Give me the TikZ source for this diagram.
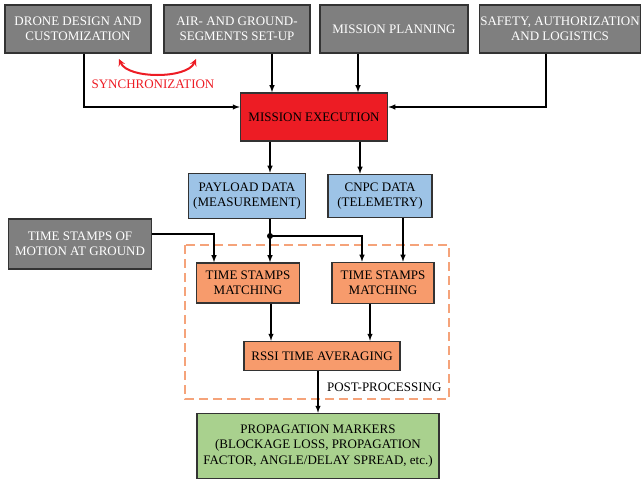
\documentclass[tikz,border=0pt]{standalone}
\usepackage{fontspec}
\setmainfont{Liberation Serif}
\usepackage{tikz}
\usetikzlibrary{arrows}
\definecolor{boxgrey}{HTML}{7F7F7F}
\definecolor{execred}{HTML}{ED1C24}
\definecolor{datablue}{HTML}{9DC3E6}
\definecolor{procorange}{HTML}{F79B6C}
\definecolor{markgreen}{HTML}{A9D18E}
\definecolor{dashorange}{HTML}{F5A37A}
\tikzstyle{block}=[draw=black!80,line width=1.5pt,align=center,inner sep=1pt,
  font=\fontsize{13}{15.5}\selectfont]
\tikzstyle{stage}=[block,fill=boxgrey,text=white]
\tikzstyle{edge} = [draw,line width=1.4pt,->,>=latex]
\tikzstyle{weight} = [font=\fontsize{13}{15.5}\selectfont]

\begin{document}
\begin{tikzpicture}[x=1pt,y=-1pt]
    \useasboundingbox (0,0) rectangle (643,481);
	% draw the set-up stages
	\node[stage,minimum width=146pt,minimum height=48pt] (drone) at (78,29) {DRONE DESIGN AND\\CUSTOMIZATION};
	\node[stage,minimum width=146pt,minimum height=48pt] (segments) at (237,29) {AIR- AND GROUND-\\SEGMENTS SET-UP};
	\node[stage,minimum width=148pt,minimum height=48pt] (planning) at (394,29) {MISSION PLANNING};
	\node[stage,minimum width=159pt,minimum height=48pt] (safety) at (560,29) {SAFETY, AUTHORIZATION\\AND LOGISTICS};
	\node[block,fill=execred,minimum width=147pt,minimum height=48pt] (exec) at (314,117) {MISSION EXECUTION};
	% data and post-processing
	\node[block,fill=datablue,minimum width=117pt,minimum height=45pt] (payload) at (247,196) {PAYLOAD DATA\\(MEASUREMENT)};
	\node[block,fill=datablue,minimum width=104pt,minimum height=43pt] (cnpc) at (380,196) {CNPC DATA\\(TELEMETRY)};
	\node[stage,minimum width=143pt,minimum height=50pt] (motion) at (80,244) {TIME STAMPS OF\\MOTION AT GROUND};
	\node[block,fill=procorange,minimum width=103pt,minimum height=40pt] (tsa) at (248,283) {TIME STAMPS\\MATCHING};
	\node[block,fill=procorange,minimum width=102pt,minimum height=41pt] (tsb) at (383,283) {TIME STAMPS\\MATCHING};
	\node[block,fill=procorange,minimum width=156pt,minimum height=29pt] (rssi) at (322,356) {RSSI TIME AVERAGING};
	\node[block,fill=markgreen,minimum width=242pt,minimum height=65pt] (markers) at (318,446)
	    {PROPAGATION MARKERS\\(BLOCKAGE LOSS, PROPAGATION\\FACTOR, ANGLE/DELAY SPREAD, etc.)};
	% post-processing frame
	\draw[dashorange,line width=2.2pt,dash pattern=on 9pt off 5pt] (185,245) rectangle (449,399);
	\node[weight,anchor=east] (post) at (445,387) {POST-PROCESSING};
	% connect the blocks
	\path[edge] (drone.south -| 84,0) |- (exec.west |- 0,107);
	\path[edge] (safety.south -| 546,0) |- (exec.east |- 0,107);
	\path[edge] (segments.south -| 272,0) -- (exec.north -| 272,0);
	\path[edge] (planning.south -| 358,0) -- (exec.north -| 358,0);
	\path[edge] (exec.south -| 270,0) -- (payload.north -| 270,0);
	\path[edge] (exec.south -| 360,0) -- (cnpc.north -| 360,0);
	\coordinate (split) at (270,236);
	\fill (split) circle (3pt);
	\path[edge] (payload.south -| 270,0) -- (tsa.north -| 270,0);
	\path[edge] (split) -| (tsb.north -| 362,0);
	\path[edge] (cnpc.south -| 403,0) -- (tsb.north -| 403,0);
	\path[edge] (motion.east |- 0,234) -| (tsa.north -| 214,0);
	\path[edge] (tsa.south -| 271,0) -- (rssi.north -| 271,0);
	\path[edge] (tsb.south -| 370,0) -- (rssi.north -| 370,0);
	\path[edge] (rssi.south -| 318,0) -- (markers.north -| 318,0);
	% synchronization
	\coordinate (syncl) at (119,59);
	\coordinate (syncr) at (196,59);
	\draw[execred,line width=2pt,<->,>=stealth] (syncl) .. controls (128,79) and (187,79) .. (syncr);
	\node[weight,text=execred] (sync) at (153,84) {SYNCHRONIZATION};
\end{tikzpicture}
\end{document}
